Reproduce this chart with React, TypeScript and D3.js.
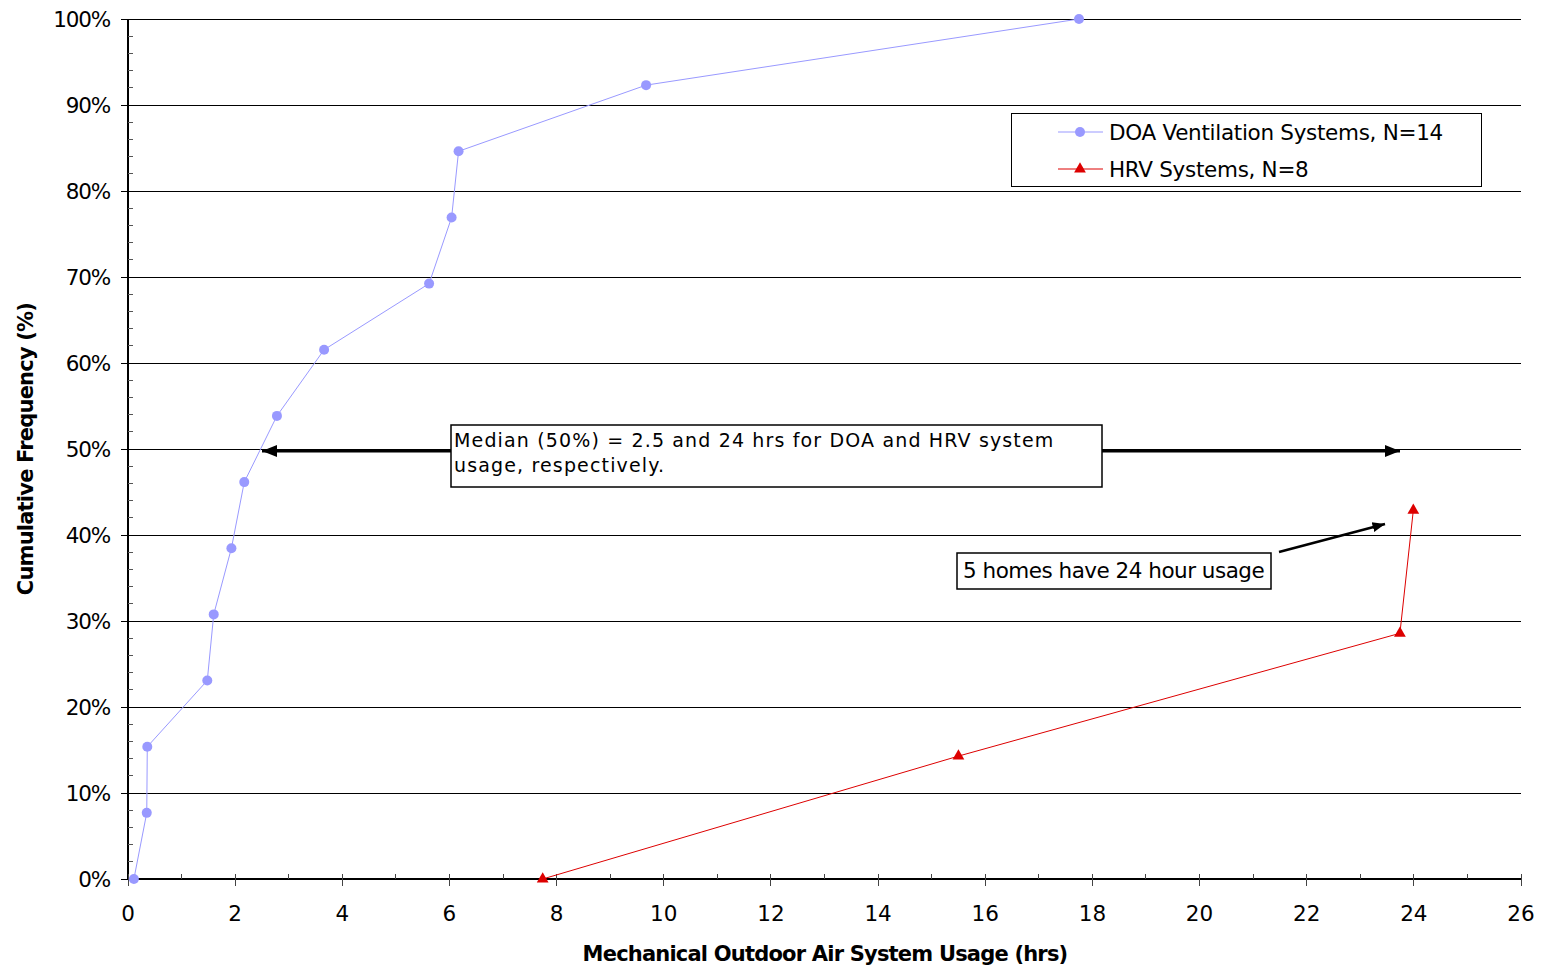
import React from "react";
import * as d3 from "d3";

const doaHours = [0.11, 0.35, 0.36, 1.48, 1.6, 1.93, 2.17, 2.78, 3.66, 5.62, 6.04, 6.17, 9.67, 17.75];
const doaFreq = [0, 7.69, 15.38, 23.08, 30.77, 38.46, 46.15, 53.85, 61.54, 69.23, 76.92, 84.62, 92.31, 100];
const hrvHours = [7.74, 15.5, 23.74, 23.99];
const hrvFreq = [0, 14.29, 28.57, 42.86];
const xTicks = d3.range(0, 27, 2);
const yTicks = d3.range(0, 101, 10);

const W = 1542, H = 971;
const M = { left: 128, right: 1521, top: 19, bottom: 879 };
const FONT = "DejaVu Sans, Verdana, sans-serif";
const DOA_COLOR = "#9999ff";
const HRV_COLOR = "#dd0000";

export default function App() {
  const x = d3.scaleLinear().domain([0, 26]).range([M.left, M.right]);
  const y = d3.scaleLinear().domain([0, 100]).range([M.bottom, M.top]);
  const doa = doaHours.map((h, i) => [h, doaFreq[i]] as [number, number]);
  const hrv = hrvHours.map((h, i) => [h, hrvFreq[i]] as [number, number]);
  const line = d3.line<[number, number]>().x(d => x(d[0])).y(d => y(d[1]));
  const tri = d3.symbol().type(d3.symbolTriangle).size(60)() as string;
  const minorY = d3.range(0, 100.1, 2).filter(v => v % 10 !== 0);
  const minorX = d3.range(1, 26, 2);

  return (
    <svg width={W} height={H} style={{ position: "absolute", left: 0, top: 0, background: "#fff" }}>
      <defs>
        <marker id="ah" viewBox="0 0 10 10" refX="10" refY="5" markerWidth="5" markerHeight="5" markerUnits="strokeWidth" orient="auto">
          <path d="M0,1 L10,5 L0,9 z" fill="#000" />
        </marker>
      </defs>
      {/* gridlines */}
      {yTicks.filter(v => v > 0).map(v => (
        <line key={"g" + v} x1={M.left} x2={M.right} y1={y(v)} y2={y(v)} stroke="#000" strokeWidth={1} shapeRendering="crispEdges" />
      ))}
      {/* y axis */}
      <line x1={M.left} x2={M.left} y1={M.top} y2={M.bottom} stroke="#000" strokeWidth={2} shapeRendering="crispEdges" />
      {yTicks.map(v => (
        <g key={"yt" + v}>
          <line x1={M.left - 7} x2={M.left} y1={y(v)} y2={y(v)} stroke="#000" strokeWidth={1} shapeRendering="crispEdges" />
          <text x={110} y={y(v)} dy="0.36em" textAnchor="end" fontFamily={FONT} fontSize={21.5} letterSpacing={-1.2}>{v + "%"}</text>
        </g>
      ))}
      {minorY.map(v => (
        <line key={"ym" + v} x1={M.left} x2={M.left + 5} y1={y(v)} y2={y(v)} stroke="#555" strokeWidth={1} shapeRendering="crispEdges" />
      ))}
      {/* x axis */}
      <line x1={M.left} x2={M.right} y1={M.bottom} y2={M.bottom} stroke="#000" strokeWidth={1.5} shapeRendering="crispEdges" />
      {xTicks.map(v => (
        <g key={"xt" + v}>
          <line x1={x(v)} x2={x(v)} y1={M.bottom - 5} y2={M.bottom + 7} stroke="#444" strokeWidth={1} shapeRendering="crispEdges" />
          <text x={x(v)} y={913} dy="0.36em" textAnchor="middle" fontFamily={FONT} fontSize={21.5}>{v}</text>
        </g>
      ))}
      {minorX.map(v => (
        <line key={"xm" + v} x1={x(v)} x2={x(v)} y1={M.bottom - 5} y2={M.bottom} stroke="#444" strokeWidth={1} shapeRendering="crispEdges" />
      ))}
      {/* axis titles */}
      <text x={825} y={953} dy="0.36em" textAnchor="middle" fontFamily={FONT} fontSize={21} fontWeight="bold" letterSpacing={-0.8}>Mechanical Outdoor Air System Usage (hrs)</text>
      <text transform={`translate(25,449) rotate(-90)`} dy="0.36em" textAnchor="middle" fontFamily={FONT} fontSize={21} fontWeight="bold" letterSpacing={-0.8}>Cumulative Frequency (%)</text>

      {/* series */}
      <path d={line(doa) as string} fill="none" stroke={DOA_COLOR} strokeWidth={1} />
      {doa.map((d, i) => (
        <circle key={"d" + i} cx={x(d[0])} cy={y(d[1])} r={5} fill={DOA_COLOR} />
      ))}
      <path d={line(hrv) as string} fill="none" stroke={HRV_COLOR} strokeWidth={1} />
      {hrv.map((d, i) => (
        <path key={"h" + i} d={tri} transform={`translate(${x(d[0])},${y(d[1])})`} fill={HRV_COLOR} />
      ))}

      {/* legend */}
      <rect x={1011} y={113} width={470} height={73} fill="#fff" stroke="#000" strokeWidth={1} shapeRendering="crispEdges" />
      <line x1={1058} x2={1103} y1={132} y2={132} stroke={DOA_COLOR} strokeWidth={1} />
      <circle cx={1080} cy={132} r={5} fill={DOA_COLOR} />
      <text x={1109} y={132} dy="0.36em" fontFamily={FONT} fontSize={21.5} letterSpacing={-0.3}>DOA Ventilation Systems, N=14</text>
      <line x1={1058} x2={1103} y1={169} y2={169} stroke={HRV_COLOR} strokeWidth={1} />
      <path d={tri} transform={`translate(1080,169)`} fill={HRV_COLOR} />
      <text x={1109} y={169} dy="0.36em" fontFamily={FONT} fontSize={21.5} letterSpacing={-0.3}>HRV Systems, N=8</text>

      {/* median annotation */}
      <line x1={451} x2={262} y1={451} y2={451} stroke="#000" strokeWidth={3} markerEnd="url(#ah)" />
      <line x1={1102} x2={1400} y1={451} y2={451} stroke="#000" strokeWidth={3} markerEnd="url(#ah)" />
      <rect x={451} y={425} width={651} height={62} fill="#fff" stroke="#000" strokeWidth={1.5} />
      <text x={454} y={447} fontFamily={FONT} fontSize={19} letterSpacing={1.15}>Median (50%) = 2.5 and 24 hrs for DOA and HRV system</text>
      <text x={454} y={472} fontFamily={FONT} fontSize={19} letterSpacing={1.15}>usage, respectively.</text>

      {/* 5 homes annotation */}
      <line x1={1279} x2={1385} y1={552} y2={524} stroke="#000" strokeWidth={2.5} markerEnd="url(#ah)" />
      <rect x={957} y={553} width={314} height={36} fill="#fff" stroke="#000" strokeWidth={1.5} />
      <text x={963} y={570} dy="0.36em" fontFamily={FONT} fontSize={21.5} letterSpacing={-0.5}>5 homes have 24 hour usage</text>
    </svg>
  );
}
